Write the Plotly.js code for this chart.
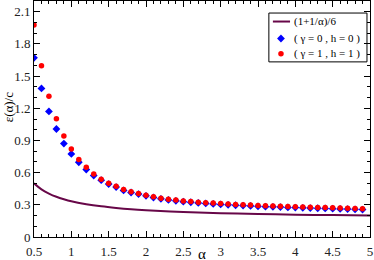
<!DOCTYPE html>
<html><head><meta charset="utf-8">
<script src="https://cdn.plot.ly/plotly-3.0.1.min.js"></script>
<style>html,body{margin:0;padding:0;background:#fff}#c{width:374px;height:260px}</style>
</head><body><div id="c"></div>
<script>
// alpha values for the two data series
const alphaPts = [0.5,0.6,0.7,0.8,0.9,1.0,1.1,1.2,1.3,1.4,1.5,1.6,1.7,1.8,1.9,2.0,2.1,2.2,2.3,2.4,2.5,2.6,2.7,2.8,2.9,3.0,3.1,3.2,3.3,3.4,3.5,3.6,3.7,3.8,3.9,4.0,4.1,4.2,4.3,4.4,4.5,4.6,4.7,4.8,4.9];
const blueVals = [1.67,1.385,1.171,1.007,0.871,0.774,0.697,0.629,0.573,0.530,0.493,0.465,0.434,0.415,0.400,0.384,0.368,0.356,0.346,0.337,0.329,0.324,0.318,0.313,0.308,0.304,0.300,0.296,0.293,0.290,0.286,0.283,0.281,0.279,0.276,0.274,0.272,0.270,0.268,0.266,0.264,0.262,0.260,0.258,0.256];
const redVals = [1.977,1.596,1.313,1.103,0.941,0.821,0.722,0.651,0.588,0.539,0.502,0.474,0.443,0.421,0.406,0.390,0.375,0.362,0.353,0.344,0.336,0.330,0.325,0.320,0.316,0.312,0.308,0.304,0.301,0.298,0.294,0.291,0.289,0.287,0.285,0.282,0.280,0.278,0.276,0.274,0.272,0.270,0.268,0.266,0.264];
// curve samples
const curveX = [0.5,0.6,0.7,0.8,0.9,1.0,1.2,1.4,1.6,1.8,2.0,2.5,3.0,3.5,4.0,4.5,5.0];
const curveY = [0.5,0.444,0.405,0.375,0.352,0.333,0.306,0.286,0.271,0.259,0.25,0.233,0.222,0.214,0.208,0.204,0.2];
const names = ['(1+1/\u03b1)/6','( \u03b3 = 0 , h = 0 )','( \u03b3 = 1 , h = 1 )'];
const xTicks = [0.5,1,1.5,2,2.5,3,3.5,4,4.5,5];
const yTicks = [0,0.3,0.6,0.9,1.2,1.5,1.8,2.1];
const xTitle = '\u03b1';
const yTitle = '\u03b5(\u03b1)/c';

const serif = 'Liberation Serif, Times New Roman, serif';
const maroon = 'rgb(103,7,72)';
const blueMk = {symbol: 'diamond', color: '#0000ff', size: 6};
const redMk = {symbol: 'circle', color: '#ff0000', size: 5.5};

// legend layout (paper fractions)
const legX0 = 0.699, legX1 = 0.991, legY0 = 0.742, legY1 = 0.949;
const legRows = [0.913, 0.841, 0.777];
const legSymX = 0.735, legTextX = 0.768;

const traces = [
  {x: curveX, y: curveY, name: names[0], mode: 'lines', line: {color: maroon, width: 2, shape: 'spline'}},
  {x: alphaPts, y: blueVals, name: names[1], mode: 'markers', marker: blueMk},
  {x: alphaPts, y: redVals, name: names[2], mode: 'markers', marker: redMk},
  {x: [legSymX], y: [legRows[1]], xaxis: 'x2', yaxis: 'y2', mode: 'markers', marker: blueMk, hoverinfo: 'skip'},
  {x: [legSymX], y: [legRows[2]], xaxis: 'x2', yaxis: 'y2', mode: 'markers', marker: redMk, hoverinfo: 'skip'}
];
const axisCommon = {
  showgrid: false, zeroline: false, showline: true, linecolor: '#000', linewidth: 1,
  mirror: 'allticks', ticks: 'inside', ticklen: 6, tickcolor: '#000', tickwidth: 1,
  tickfont: {family: serif, size: 13, color: '#222'}
};
const layout = {
  width: 374, height: 260,
  margin: {l: 34, r: 4, t: 1, b: 23},
  paper_bgcolor: '#fff', plot_bgcolor: '#fff',
  showlegend: false,
  xaxis: Object.assign({}, axisCommon, {
    range: [0.5, 5], tickvals: xTicks, ticktext: xTicks.map(String), ticklabelstandoff: 2,
    minor: {dtick: 0.1, ticks: 'inside', ticklen: 3, tickcolor: '#000'}
  }),
  yaxis: Object.assign({}, axisCommon, {
    range: [0, 2.2], tickvals: yTicks, ticktext: yTicks.map(String),
    minor: {dtick: 0.1, ticks: 'inside', ticklen: 3, tickcolor: '#000'}
  }),
  xaxis2: {overlaying: 'x', range: [0, 1], visible: false, fixedrange: true},
  yaxis2: {overlaying: 'y', range: [0, 1], visible: false, fixedrange: true},
  shapes: [
    {type: 'rect', xref: 'paper', yref: 'paper', x0: legX0, x1: legX1, y0: legY0, y1: legY1,
     line: {color: '#000', width: 1}, fillcolor: '#fff', layer: 'below'},
    {type: 'line', xref: 'paper', yref: 'paper', x0: 0.711, x1: 0.762, y0: legRows[0], y1: legRows[0],
     line: {color: maroon, width: 2}, layer: 'above'}
  ],
  annotations: names.map((t, i) => ({
    text: t, xref: 'paper', yref: 'paper', x: legTextX, y: legRows[i], xanchor: 'left', yanchor: 'middle',
    showarrow: false, font: {family: serif, size: 11, color: '#000'}
  })).concat([
    {text: xTitle, xref: 'paper', yref: 'paper', x: 0.5, y: -0.074, xanchor: 'center', yanchor: 'middle',
     showarrow: false, font: {family: serif, size: 15, color: '#000'}},
    {text: yTitle, xref: 'paper', yref: 'paper', x: -0.077, y: 0.55, xanchor: 'center', yanchor: 'middle',
     textangle: -90, showarrow: false, font: {family: serif, size: 13, color: '#000'}}
  ])
};
Plotly.newPlot('c', traces, layout, {displayModeBar: false, staticPlot: true});
</script></body></html>
